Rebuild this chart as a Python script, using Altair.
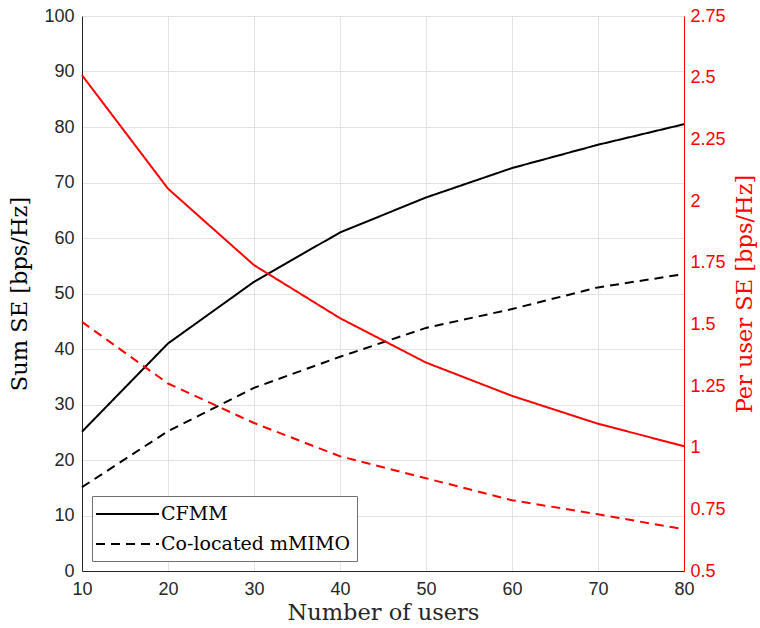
import altair as alt
import pandas as pd

users = [10, 20, 30, 40, 50, 60, 70, 80]
cfmm_sum = [25.1, 41.0, 52.1, 61.0, 67.3, 72.6, 76.8, 80.5]
col_sum = [15.1, 25.2, 33.0, 38.6, 43.8, 47.2, 51.1, 53.5]
cfmm_per = [2.51, 2.05, 1.74, 1.525, 1.345, 1.21, 1.097, 1.006]
col_per = [1.51, 1.26, 1.10, 0.965, 0.876, 0.787, 0.73, 0.669]
schemes = ["CFMM", "Co-located mMIMO"]
left_ticks = list(range(0, 101, 10))
right_ticks = [0.5, 0.75, 1, 1.25, 1.5, 1.75, 2, 2.25, 2.5, 2.75]
x_ticks = users

rows = []
for i, u in enumerate(users):
    rows.append({"users": u, "scheme": schemes[0], "sum": cfmm_sum[i], "per": cfmm_per[i]})
    rows.append({"users": u, "scheme": schemes[1], "sum": col_sum[i], "per": col_per[i]})
df = pd.DataFrame(rows)

SERIF = "DejaVu Serif"
SANS = "Liberation Sans"
TITLE_SIZE = 22.5
LABEL_SIZE = 18

x_enc = alt.X("users:Q", scale=alt.Scale(domain=[10, 80], nice=False),
              axis=alt.Axis(values=x_ticks, title="Number of users", grid=True,
                            titleFont=SERIF, titleFontSize=TITLE_SIZE, titleFontWeight="normal",
                            titleColor="#262626", labelFlush=False,
                            labelFont=SANS, labelFontSize=LABEL_SIZE, labelColor="#262626",
                            domainColor="#262626", tickSize=0, labelPadding=9,
                            titlePadding=3, gridColor="#e3e3e3"))

dash_scale = alt.Scale(domain=schemes, range=[[1, 0], [9, 6]])

dash = alt.StrokeDash("scheme:N", scale=dash_scale,
                      legend=alt.Legend(title=None, orient="none", legendX=10, legendY=480,
                                        labelFont=SERIF, labelFontSize=19, labelColor="black",
                                        labelLimit=400,
                                        symbolType="M-1.4,0H4.9", symbolSize=400,
                                        symbolStrokeColor="black", symbolStrokeWidth=2,
                                        strokeColor="#707070", fillColor="white",
                                        padding=7, rowPadding=9, labelOffset=40))

left = alt.Chart(df).mark_line(color="black", strokeWidth=2).encode(
    x=x_enc,
    y=alt.Y("sum:Q", scale=alt.Scale(domain=[0, 100], nice=False),
            axis=alt.Axis(values=left_ticks, title="Sum SE [bps/Hz]", grid=True,
                          titleFont=SERIF, titleFontSize=TITLE_SIZE, titleFontWeight="normal",
                          titleColor="black", labelFlush=False,
                          labelFont=SANS, labelFontSize=LABEL_SIZE, labelColor="#262626",
                          domainColor="#262626", tickSize=0, labelPadding=8,
                          titlePadding=12, gridColor="#e3e3e3")),
    strokeDash=dash,
    detail="scheme:N",
)

right = alt.Chart(df).mark_line(color="#ff0000", strokeWidth=2).encode(
    x=x_enc,
    y=alt.Y("per:Q", scale=alt.Scale(domain=[0.5, 2.75], nice=False),
            axis=alt.Axis(values=right_ticks, orient="right", format=".2~f",
                          title="Per user SE [bps/Hz]", grid=False,
                          titleAngle=270, titleBaseline="top", labelFlush=False,
                          titleFont=SERIF, titleFontSize=TITLE_SIZE, titleFontWeight="normal",
                          titleColor="#ff0000",
                          labelFont=SANS, labelFontSize=LABEL_SIZE, labelColor="#ff0000",
                          domainColor="#ff0000", tickColor="#ff0000", tickSize=0,
                          labelPadding=6, titlePadding=8)),
    strokeDash=alt.StrokeDash("scheme:N", scale=dash_scale, legend=None),
    detail="scheme:N",
)

chart = alt.layer(left, right).resolve_scale(y="independent").properties(
    width=602, height=555,
    autosize=alt.AutoSizeParams(type="none"),
    padding={"left": 82, "top": 16, "right": 76, "bottom": 57},
).configure_view(stroke="#262626", strokeWidth=1).configure(background="white")

chart.save("out.html", embed_options={"renderer": "svg", "actions": False})
